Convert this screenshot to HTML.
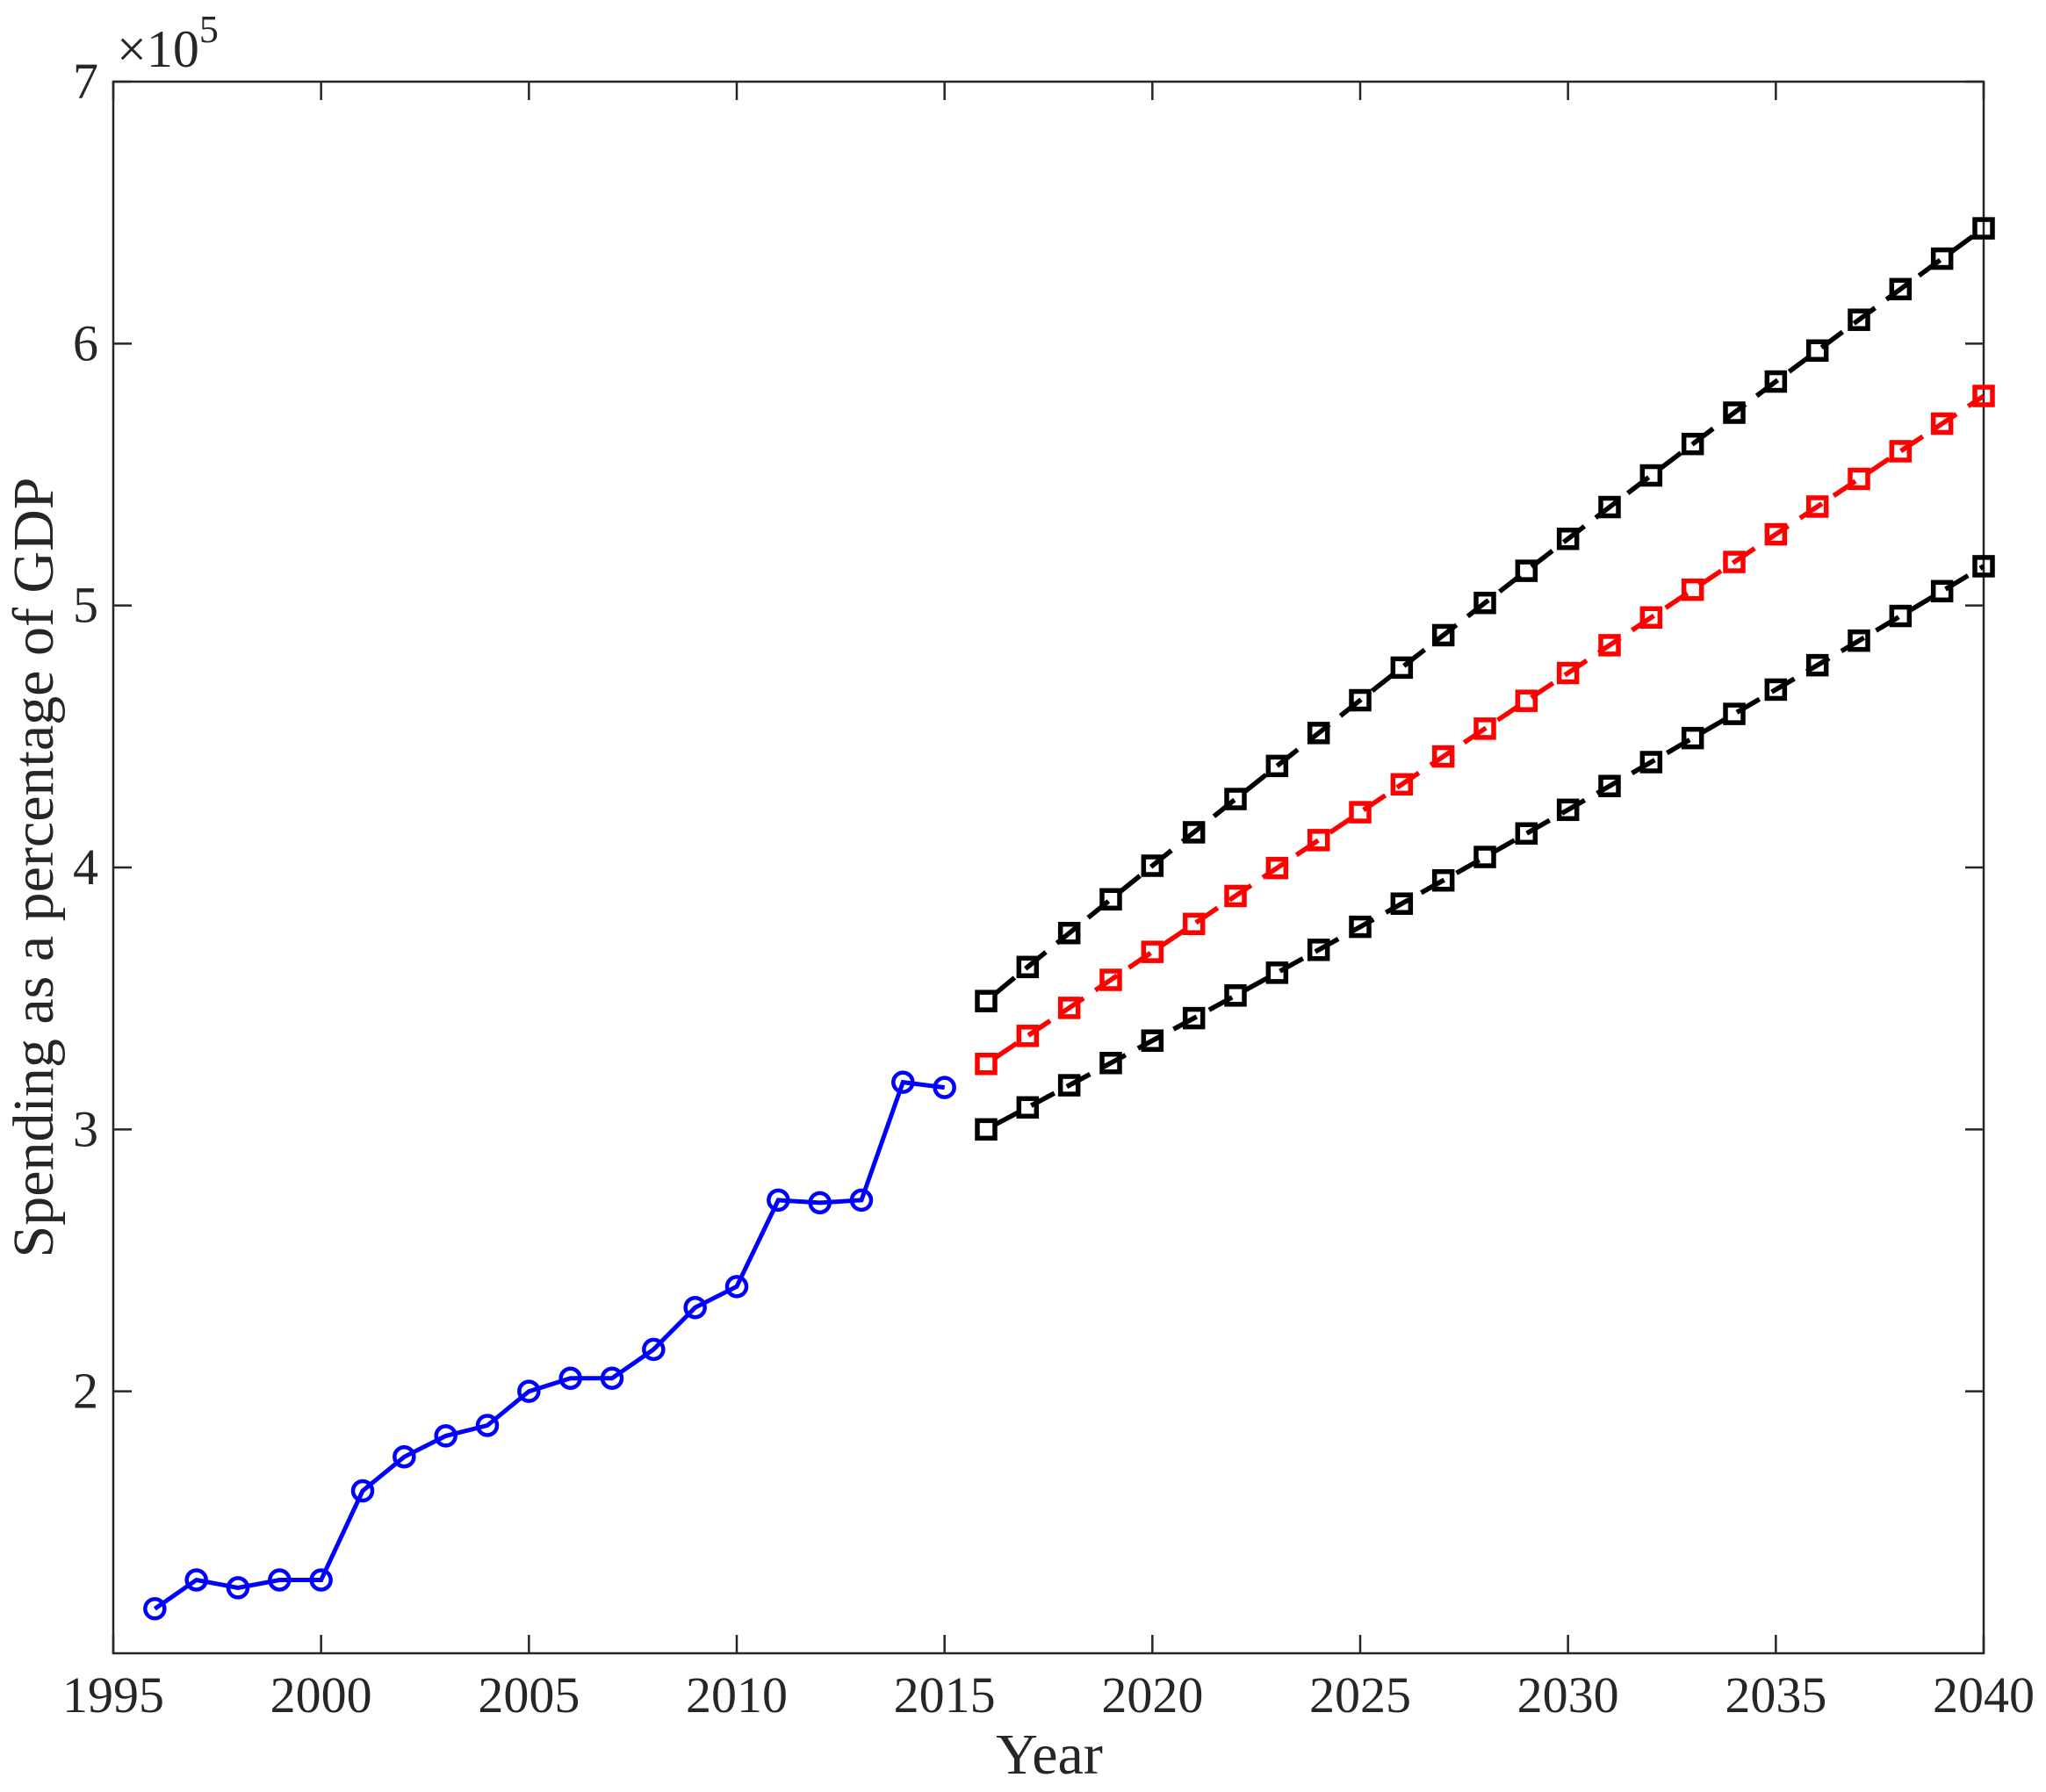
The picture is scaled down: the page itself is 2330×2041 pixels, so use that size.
<!DOCTYPE html>
<html><head><meta charset="utf-8"><style>
html,body{margin:0;padding:0;background:#fff;}
svg{display:block;font-family:"Liberation Serif",serif;}
</style></head><body>
<svg id="s" width="2330" height="2041" xmlns="http://www.w3.org/2000/svg"></svg>
<script>
const s=document.getElementById('s');
const L=129,R=2259,T=93,B=1883;
const X=y=>L+(y-1995)*(R-L)/45;
const Y=v=>B-(v-1)*(B-T)/6;
let h='';
h+=`<rect x="${L}" y="${T}" width="${R-L}" height="${B-T}" fill="none" stroke="#262626" stroke-width="2.5"/>`;
for(let y=1995;y<=2040;y+=5){const x=X(y);
 h+=`<line x1="${x}" y1="${B}" x2="${x}" y2="${B-21}" stroke="#262626" stroke-width="2.5"/>`;
 h+=`<line x1="${x}" y1="${T}" x2="${x}" y2="${T+21}" stroke="#262626" stroke-width="2.5"/>`;
 h+=`<text x="${x}" y="1950" font-size="58" text-anchor="middle" fill="#262626">${y}</text>`;}
for(let v=2;v<=7;v++){const y=Y(v);
 h+=`<line x1="${L}" y1="${y}" x2="${L+21}" y2="${y}" stroke="#262626" stroke-width="2.5"/>`;
 h+=`<line x1="${R}" y1="${y}" x2="${R-21}" y2="${y}" stroke="#262626" stroke-width="2.5"/>`;
 h+=`<text x="112" y="${y+19}" font-size="58" text-anchor="end" fill="#262626">${v}</text>`;}
h+=`<text x="133" y="76" font-size="60" fill="#262626">×10<tspan font-size="44" dy="-28">5</tspan></text>`;
h+=`<text x="1195" y="2020" font-size="66" text-anchor="middle" fill="#262626">Year</text>`;
h+=`<text transform="translate(60,988) rotate(-90)" font-size="66" text-anchor="middle" fill="#262626">Spending as a percentage of GDP</text>`;
const blue=[1.17,1.28,1.25,1.28,1.28,1.62,1.75,1.83,1.87,2.0,2.05,2.05,2.16,2.32,2.40,2.73,2.72,2.73,3.18,3.16];
let p=blue.map((v,i)=>`${X(1996+i).toFixed(1)},${Y(v).toFixed(1)}`).join(' ');
h+=`<polyline points="${p}" fill="none" stroke="#0000ff" stroke-width="5"/>`;
blue.forEach((v,i)=>{h+=`<circle cx="${X(1996+i)}" cy="${Y(v)}" r="11" fill="none" stroke="#0000ff" stroke-width="4.5"/>`;});
function proj(a,b,c,col){
 const pts=[];for(let y=2016;y<=2040;y++){const t=(y-2016)/24;pts.push([X(y),Y(a+b*t+c*t*t)]);}
 h+=`<polyline points="${pts.map(q=>q[0].toFixed(1)+','+q[1].toFixed(1)).join(' ')}" fill="none" stroke="${col}" stroke-width="5.5" stroke-dasharray="30 16" stroke-dashoffset="-12"/>`;
 pts.forEach(q=>{h+=`<rect x="${q[0]-10}" y="${q[1]-10}" width="20" height="20" fill="none" stroke="${col}" stroke-width="5.5"/>`;});
}
proj(3.49,3.13,-0.18,'#000');
proj(3.25,2.57,-0.02,'#ff0000');
proj(3.0,2.01,0.14,'#000');
s.innerHTML=h;
</script>
</body></html>
